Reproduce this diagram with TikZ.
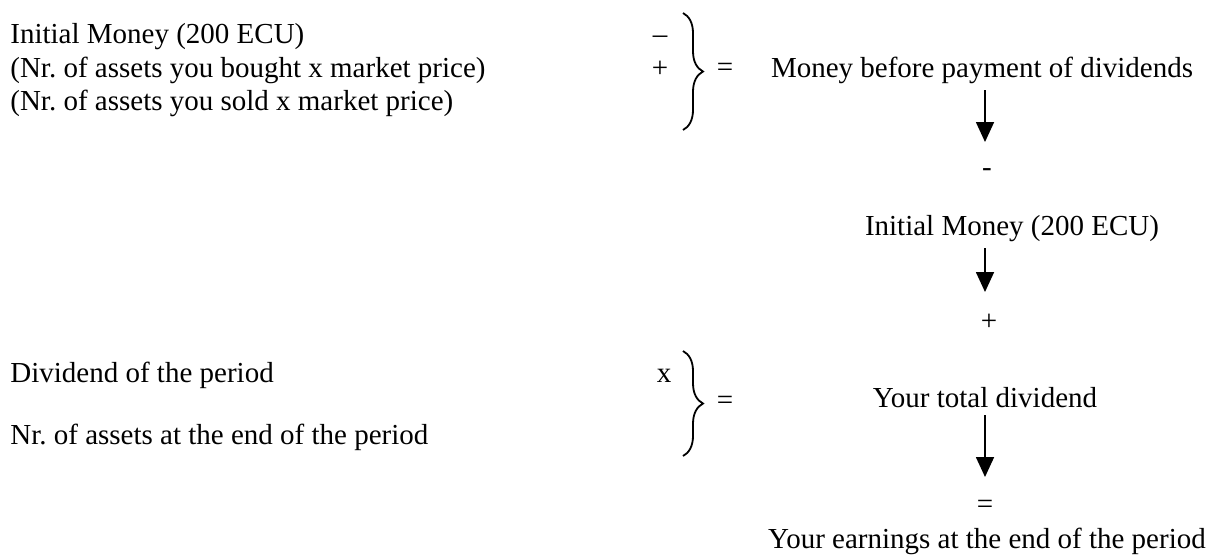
\documentclass[tikz,border=0pt]{standalone}
\usepackage{fontspec}
\setmainfont{Liberation Serif}
\usetikzlibrary{positioning,arrows.meta,decorations.pathreplacing}

\begin{document}
\frenchspacing
\begin{tikzpicture}[x=0.5pt, y=-0.5pt,
  lhs/.style={inner sep=0pt, anchor=base west, font=\fontsize{14.5}{17}\selectfont},
  rhs/.style={inner sep=0pt, anchor=base, font=\fontsize{14.5}{17}\selectfont},
  op/.style={inner sep=0pt, font=\fontsize{14.5}{17}\selectfont},
  arr/.style={-{Triangle[length=10pt, width=9pt]}, line width=0.85pt},
  brc/.style={decorate, decoration={brace, amplitude=10pt}, line width=0.9pt}
]
\useasboundingbox (0,0) rectangle (1213,554);

% left hand side
\node[lhs] (l1) at (10,43) {Initial Money (200 ECU)};
\node[lhs] (l2) at (10,77) {(Nr. of assets you bought x market price)};
\node[lhs] (l3) at (10,110) {(Nr. of assets you sold x market price)};
\node[lhs] (l4) at (10,382) {Dividend of the period};
\node[lhs] (l5) at (10,444) {Nr. of assets at the end of the period};

\node[rhs] (o1) at (660,43) {--};
\node[rhs] (o2) at (660,77) {+};
\node[rhs] (o3) at (664,382) {x};

% braces
\coordinate (b1t) at (683,13);
\coordinate (b1b) at (683,130);
\coordinate (b2t) at (683,351);
\coordinate (b2b) at (683,456);
\draw[brc] (b1t) -- (b1b);
\draw[brc] (b2t) -- (b2b);
\node[op] (e1) at (725,70) {=};
\node[op] (e2) at (725,403) {=};

% right column
\node[rhs] (r1) at (982,77) {Money before payment of dividends};
\node[op] (m1) at (987,173) {-};
\node[rhs] (r2) at (1012,235) {Initial Money (200 ECU)};
\node[op] (p1) at (989,322) {+};
\node[rhs] (r3) at (985,407) {Your total dividend};
\node[op] (q1) at (985,507) {=};
\node[rhs] (r4) at (987,548) {Your earnings at the end of the period};

% arrows
\coordinate (a1t) at (985,90);
\coordinate (a1b) at (985,142);
\coordinate (a2t) at (985,248);
\coordinate (a2b) at (985,292);
\coordinate (a3t) at (985,415);
\coordinate (a3b) at (985,477);
\draw[arr] (a1t) -- (a1b);
\draw[arr] (a2t) -- (a2b);
\draw[arr] (a3t) -- (a3b);
\end{tikzpicture}
\end{document}
